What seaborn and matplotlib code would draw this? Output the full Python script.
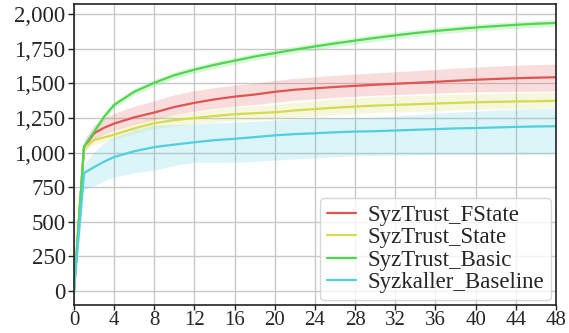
import matplotlib
matplotlib.use("Agg")
import matplotlib.pyplot as plt
import matplotlib.ticker as mticker
import seaborn as sns
import pandas as pd

# hours of fuzzing
hours = [0, 1, 2, 3, 4, 6, 8, 10, 12, 14, 16, 18, 20, 22, 24, 26, 28, 30, 32,
         34, 36, 38, 40, 42, 44, 46, 48]

# mean coverage per series
fstate = [0, 1040, 1140, 1180, 1210, 1255, 1290, 1330, 1360, 1385, 1405, 1420,
          1440, 1455, 1465, 1475, 1483, 1491, 1498, 1505, 1512, 1520, 1527,
          1533, 1538, 1542, 1545]
state = [0, 1040, 1090, 1110, 1130, 1175, 1213, 1235, 1250, 1265, 1278, 1285,
         1292, 1305, 1315, 1325, 1333, 1340, 1345, 1350, 1355, 1360, 1364,
         1367, 1370, 1372, 1375]
basic = [0, 1045, 1150, 1260, 1345, 1440, 1505, 1560, 1600, 1635, 1665, 1695,
         1720, 1745, 1768, 1790, 1810, 1830, 1848, 1865, 1880, 1893, 1905,
         1915, 1924, 1932, 1938]
baseline = [0, 852, 895, 935, 968, 1010, 1040, 1058, 1075, 1090, 1100, 1112,
            1125, 1134, 1140, 1147, 1152, 1155, 1160, 1165, 1170, 1175, 1178,
            1182, 1186, 1189, 1191]

# band extent above / below the mean
fstate_up = [0, 50, 60, 70, 75, 80, 85, 88, 88, 85, 83, 82, 82, 82, 83, 84,
             85, 85, 87, 88, 90, 91, 92, 93, 94, 95, 95]
fstate_lo = [0, 40, 45, 45, 48, 50, 52, 55, 60, 65, 70, 73, 76, 76, 76, 76,
             76, 76, 78, 80, 82, 85, 88, 92, 95, 98, 100]
state_up = [0, 25, 30, 32, 35, 38, 40, 42, 45, 48, 50, 52, 55, 57, 60, 62, 63,
            65, 65, 64, 64, 63, 63, 62, 62, 62, 62]
state_lo = [0, 25, 30, 32, 35, 38, 40, 42, 44, 45, 46, 47, 48, 48, 49, 50, 50,
            50, 50, 51, 51, 51, 52, 52, 52, 52, 52]
basic_band = [0, 20, 25, 25, 25, 25, 25, 25, 25, 25, 25, 25, 25, 25, 25, 25,
              25, 25, 25, 25, 25, 25, 25, 25, 25, 25, 25]
baseline_up = [0, 60, 110, 135, 144, 155, 160, 145, 130, 125, 120, 115, 110,
               108, 106, 104, 102, 100, 105, 110, 115, 118, 122, 125, 127, 129, 130]
baseline_lo = [0, 120, 135, 140, 145, 155, 167, 150, 145, 160, 170, 175, 180,
               180, 178, 176, 175, 175, 178, 182, 185, 188, 192, 195, 197, 199, 200]

names = ["SyzTrust_FState", "SyzTrust_State", "SyzTrust_Basic", "Syzkaller_Baseline"]
colors = ["#e05550", "#d4db50", "#4fd64f", "#4fd0dc"]

series = [(fstate, fstate_up, fstate_lo), (state, state_up, state_lo),
          (basic, basic_band, basic_band), (baseline, baseline_up, baseline_lo)]

rows = []
for name, (vals, _, _) in zip(names, series):
    for h, v in zip(hours, vals):
        rows.append({"hour": h, "cov": v, "tool": name})
df = pd.DataFrame(rows)

sns.set_style("whitegrid")
plt.rcParams["font.family"] = ["Liberation Serif", "DejaVu Serif"]
plt.rcParams["font.size"] = 16

fig, ax = plt.subplots(figsize=(5.69, 3.33), dpi=100)

for name, color, (vals, up, lo) in zip(names, colors, series):
    ax.fill_between(hours, [v + u for v, u in zip(vals, up)],
                    [v - l for v, l in zip(vals, lo)],
                    color=color, alpha=0.2, linewidth=0)

sns.lineplot(data=df, x="hour", y="cov", hue="tool", palette=colors,
             linewidth=1.6, ax=ax)

ax.set_xlim(0, 48)
ax.set_ylim(-100, 2075)
ax.set_xticks(range(0, 49, 4))
ax.set_yticks(range(0, 2001, 250))
ax.yaxis.set_major_formatter(mticker.StrMethodFormatter("{x:,.0f}"))
ax.set_xlabel("")
ax.set_ylabel("")
ax.grid(color="#c8c8c8", linewidth=1.0)
for s in ax.spines.values():
    s.set_color("#222222")
    s.set_linewidth(1.2)
ax.tick_params(axis="y", which="major", length=4, width=1, color="#222222",
               labelsize=16.5, pad=2, direction="out", left=True)
ax.tick_params(axis="x", which="major", length=3.5, width=1, color="#222222",
               labelsize=15, pad=1, direction="out", bottom=True)

leg = ax.legend(loc="lower right", fontsize=16.5, frameon=True, handlelength=1.3,
                handletextpad=0.5, borderaxespad=0.2, labelspacing=0.06,
                borderpad=0.3)
leg.get_frame().set_edgecolor("#cccccc")

fig.subplots_adjust(left=0.13, right=0.977, top=0.988, bottom=0.085)
fig.savefig("out.png", dpi=100)
